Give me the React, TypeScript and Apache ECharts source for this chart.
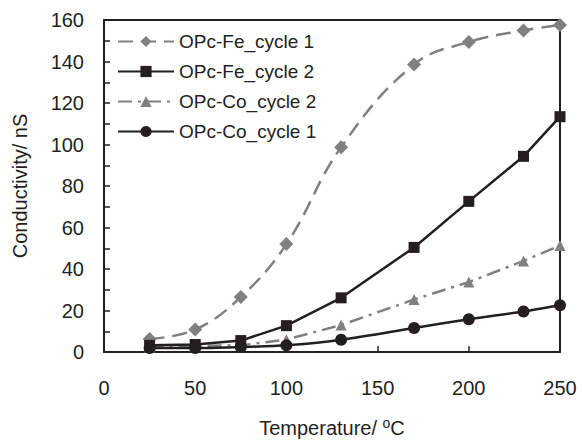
import React, { useEffect, useRef } from "react";
import * as echarts from "echarts";

const temperatures = [25, 50, 75, 100, 130, 170, 200, 230, 250];
const feCycle1 = [6.3, 10.8, 26.5, 52, 98.7, 138.6, 149.4, 155, 157.6];
const feCycle2 = [3.2, 3.6, 5.5, 12.7, 26.1, 50.4, 72.6, 94.3, 113.4];
const coCycle2 = [2.4, 2.9, 3.2, 6, 13, 25.3, 33.7, 43.9, 51.3];
const coCycle1 = [1.9, 1.9, 2.4, 3.2, 5.9, 11.6, 15.8, 19.5, 22.5];

const xTicks = { min: 0, max: 250, interval: 50 };
const yTicks = { min: 0, max: 160, tickInterval: 10, labelEvery: 20 };

const FONT = "'Liberation Sans', Arial, sans-serif";
const GRAY = "#808080";
const BLACK = "#231f20";

function pairs(ys: number[]) {
  return temperatures.map((t, i) => [t, ys[i]]);
}

export default function App() {
  const ref = useRef<HTMLDivElement>(null);
  useEffect(() => {
    document.body.style.margin = "0";
    if (!ref.current) return;
    const chart = echarts.init(ref.current, undefined, { renderer: "svg" });
    chart.setOption({
      animation: false,
      backgroundColor: "#ffffff",
      textStyle: { fontFamily: FONT },
      grid: {
        left: 104,
        right: 22,
        top: 20,
        bottom: 87,
        show: true,
        borderColor: BLACK,
        borderWidth: 2,
      },
      legend: {
        left: 117,
        top: 32,
        padding: 0,
        orient: "vertical",
        itemWidth: 56,
        itemHeight: 14,
        itemGap: 11,
        itemStyle: { borderWidth: 0 },
        textStyle: { fontSize: 19, color: BLACK, fontFamily: FONT, lineHeight: 19 },
        data: ["OPc-Fe_cycle 1", "OPc-Fe_cycle 2", "OPc-Co_cycle 2", "OPc-Co_cycle 1"],
      },
      xAxis: {
        type: "value",
        min: xTicks.min,
        max: xTicks.max,
        interval: xTicks.interval,
        name: "Temperature/ {sup|o}C",
        nameLocation: "middle",
        nameGap: 64,
        nameTextStyle: {
          fontSize: 20,
          color: BLACK,
          fontFamily: FONT,
          rich: {
            sup: { fontSize: 14, color: BLACK, fontFamily: FONT, verticalAlign: "top", padding: [0, 0, 10, 0] },
          },
        },
        axisLine: { show: true, lineStyle: { color: BLACK, width: 2 } },
        axisTick: { show: true, inside: true, length: 6, lineStyle: { color: BLACK, width: 1.5 } },
        axisLabel: { fontSize: 20, color: BLACK, margin: 26, fontFamily: FONT },
        splitLine: { show: false },
      },
      yAxis: {
        type: "value",
        min: yTicks.min,
        max: yTicks.max,
        interval: yTicks.tickInterval,
        name: "Conductivity/ nS",
        nameLocation: "middle",
        nameGap: 74,
        nameTextStyle: { fontSize: 20, color: BLACK, fontFamily: FONT },
        axisLine: { show: true, lineStyle: { color: BLACK, width: 2 } },
        axisTick: { show: true, inside: true, length: 6, lineStyle: { color: BLACK, width: 1.5 } },
        axisLabel: {
          fontSize: 20,
          color: BLACK,
          margin: 20,
          fontFamily: FONT,
          formatter: (v: number) => (v % yTicks.labelEvery === 0 ? String(v) : ""),
        },
        splitLine: { show: false },
      },
      series: [
        {
          name: "OPc-Fe_cycle 1",
          type: "line",
          data: pairs(feCycle1),
          smooth: 0.4,
          symbol: "diamond",
          symbolSize: 14,
          itemStyle: { color: GRAY },
          lineStyle: { color: GRAY, width: 2.5, type: [15, 8] },
          z: 2,
        },
        {
          name: "OPc-Fe_cycle 2",
          type: "line",
          data: pairs(feCycle2),
          symbol: "rect",
          symbolSize: 11,
          itemStyle: { color: BLACK },
          lineStyle: { color: BLACK, width: 2.5 },
          z: 3,
        },
        {
          name: "OPc-Co_cycle 2",
          type: "line",
          data: pairs(coCycle2),
          symbol: "triangle",
          symbolSize: 11,
          itemStyle: { color: GRAY },
          lineStyle: { color: GRAY, width: 2.5, type: [14, 6, 3, 6] },
          z: 2,
        },
        {
          name: "OPc-Co_cycle 1",
          type: "line",
          data: pairs(coCycle1),
          smooth: 0.3,
          symbol: "circle",
          symbolSize: 12,
          itemStyle: { color: BLACK },
          lineStyle: { color: BLACK, width: 2.5 },
          z: 4,
        },
      ],
    });
    return () => chart.dispose();
  }, []);
  return <div ref={ref} style={{ width: 582, height: 443 }} />;
}
